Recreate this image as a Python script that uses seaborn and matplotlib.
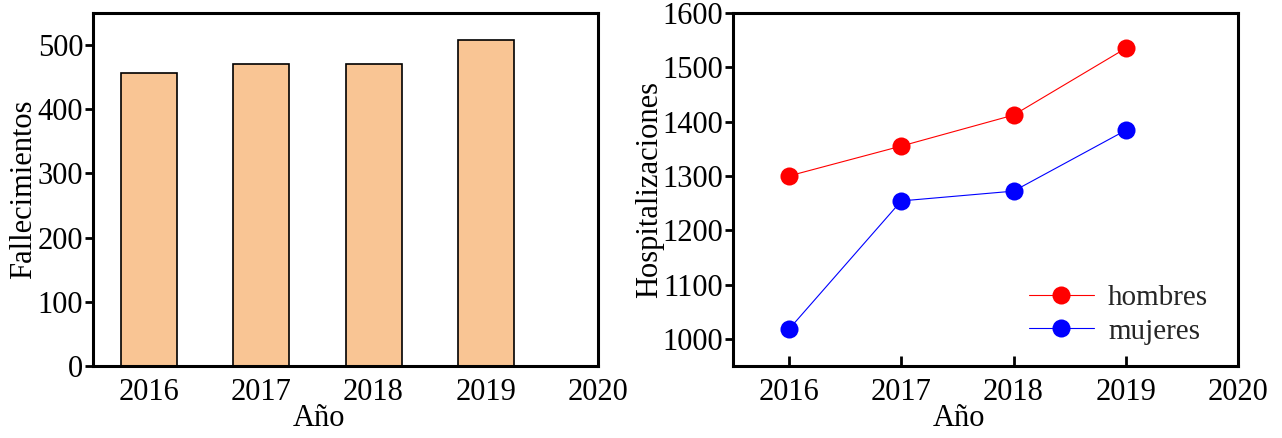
import matplotlib
matplotlib.use("Agg")
import matplotlib.pyplot as plt
import seaborn as sns
import pandas as pd

# Annual figures
years = [2016, 2017, 2018, 2019]
deaths = [457, 471, 470, 508]
hosp_men = [1300, 1355, 1412, 1535]
hosp_women = [1018, 1254, 1272, 1384]
x_ticks = [2016, 2017, 2018, 2019, 2020]

sns.set_theme(style="white")
plt.rcParams["font.family"] = ["Liberation Serif", "DejaVu Serif"]
plt.rcParams["mathtext.fontset"] = "stix"

fig = plt.figure(figsize=(12.82, 4.38), dpi=100)
ax1 = fig.add_axes([93 / 1282, 1 - 366 / 438, 505 / 1282, 353 / 438])
ax2 = fig.add_axes([733 / 1282, 1 - 366 / 438, 505 / 1282, 353 / 438])

# Deaths per year
df_deaths = pd.DataFrame({"Año": years, "Fallecimientos": deaths})
sns.barplot(data=df_deaths, x="Año", y="Fallecimientos", native_scale=True,
            width=0.5, color="#F9C594", saturation=1, edgecolor="black",
            linewidth=1.2, ax=ax1)
ax1.set_xlim(2015.5, 2020)
ax1.set_ylim(0, 550)
ax1.set_yticks([0, 100, 200, 300, 400, 500])

# Hospitalisations by sex
df_hosp = pd.DataFrame({
    "Año": years * 2,
    "Hospitalizaciones": hosp_men + hosp_women,
    "sexo": ["hombres"] * len(years) + ["mujeres"] * len(years),
})
sns.lineplot(data=df_hosp, x="Año", y="Hospitalizaciones", hue="sexo",
             palette={"hombres": "#FF0000", "mujeres": "#0000FF"},
             marker="o", markersize=13, markeredgewidth=0, linewidth=0.8,
             ax=ax2)
ax2.set_xlim(2015.5, 2020)
ax2.set_ylim(950, 1600)
ax2.set_yticks([1000, 1100, 1200, 1300, 1400, 1500, 1600])
leg = ax2.legend(loc="lower right", bbox_to_anchor=(0.993, -0.014), frameon=False,
                 fontsize=21, handlelength=2.2, handletextpad=0.5,
                 labelspacing=0.25)

for ax, ylab in [(ax1, "Fallecimientos"), (ax2, "Hospitalizaciones")]:
    ax.set_xticks(x_ticks)
    ax.set_xticklabels([str(t) for t in x_ticks])
    for s in ax.spines.values():
        s.set_visible(True)
        s.set_color("black")
        s.set_linewidth(2.2)
    ax.tick_params(axis="x", direction="in", length=7, width=2, pad=9,
                   labelsize=22, colors="black", bottom=True, top=False)
    ax.tick_params(axis="y", direction="out", length=6, width=2, pad=1,
                   labelsize=22, colors="black", left=True, right=False)
    ax.set_xlabel("Año", fontsize=22, color="black")
    ax.set_ylabel(ylab, fontsize=22, color="black")
    ax.xaxis.set_label_coords(0.447, -0.108)
    ax.grid(False)

ax1.yaxis.set_label_coords(-0.109, 0.5)
ax2.yaxis.set_label_coords(-0.136, 0.5)

fig.savefig("out.png", dpi=100)
